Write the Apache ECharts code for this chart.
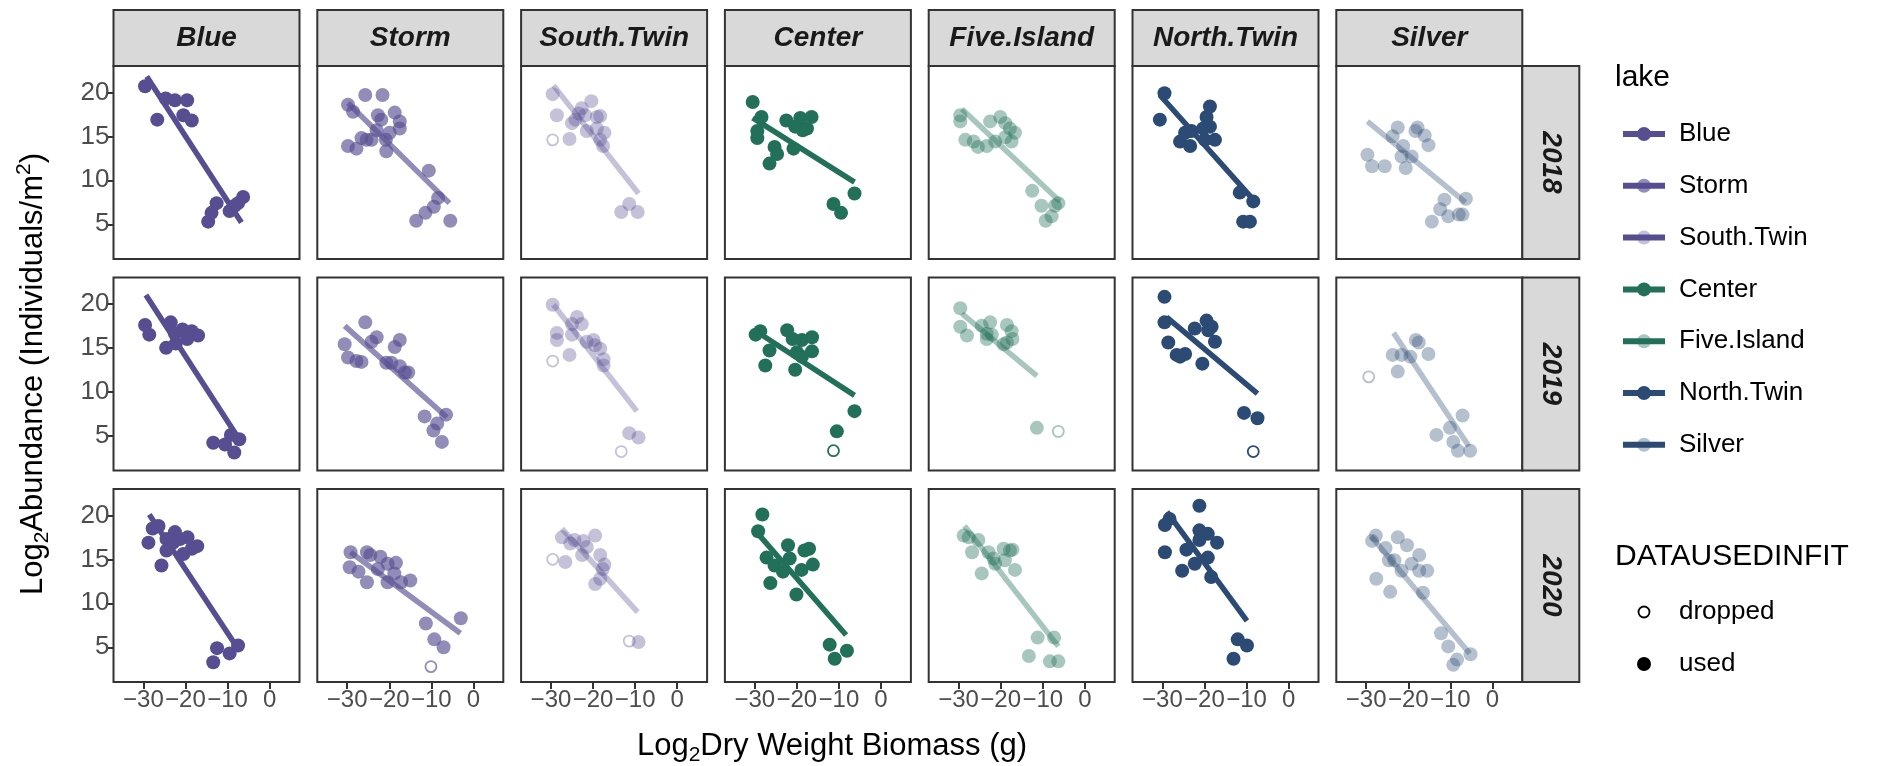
<!DOCTYPE html>
<html>
<head>
<meta charset="utf-8">
<script src="https://cdn.jsdelivr.net/npm/echarts@6/dist/echarts.min.js"></script>
<style>
  html, body { margin: 0; padding: 0; background: #fff; }
  #main { width: 1890px; height: 766px; }
</style>
</head>
<body>
<div id="main"></div>
<script>
// facets
const lakes = ['Blue', 'Storm', 'South.Twin', 'Center', 'Five.Island', 'North.Twin', 'Silver'];
const years = ['2018', '2019', '2020'];
const lakeColors = ['#574e92', '#574e92', '#574e92', '#23705a', '#23705a', '#2b4a74', '#2b4a74'];
const lakeAlpha = [1, 0.65, 0.35, 1, 0.4, 1, 0.35];
const xTicks = [-30, -20, -10, 0];
const yTicks = [5, 10, 15, 20];

// points used in fit, per lake: [2018, 2019, 2020], each [x, y]
const blueUsed = [
  [[-29.6, 20.7], [-24.7, 19.3], [-22.5, 19.1], [-19.6, 19.1], [-26.7, 16.9], [-20.5, 17.4], [-18.5, 16.8],
   [-14.6, 5.3], [-13.8, 6.3], [-12.6, 7.4], [-9.5, 6.5], [-8.3, 7.1], [-6.3, 8.1], [-7.5, 7.4]],
  [[-29.6, 17.6], [-28.6, 16.5], [-23.5, 17.9], [-20.7, 17.1], [-18.5, 16.9], [-17.0, 16.4], [-19.6, 16.0],
   [-24.6, 15.0], [-22.3, 15.5], [-22.5, 16.6], [-13.4, 4.2], [-10.6, 4.0], [-9.2, 5.1], [-7.2, 4.6], [-8.4, 3.1]],
  [[-28.8, 16.9], [-27.8, 18.5], [-26.4, 18.8], [-24.5, 17.3], [-25.7, 14.3], [-24.5, 16.0], [-22.5, 18.1],
   [-21.3, 17.3], [-19.5, 17.5], [-20.5, 15.6], [-18.5, 16.2], [-17.2, 16.5], [-22.9, 16.9],
   [-12.5, 4.9], [-13.4, 3.3], [-9.5, 4.3], [-7.5, 5.2]]
];
const stormUsed = [
  [[-25.7, 19.7], [-21.6, 19.7], [-29.8, 18.6], [-28.6, 17.8], [-22.7, 17.4], [-18.7, 17.7], [-21.9, 16.9],
   [-17.5, 16.7], [-17.5, 15.9], [-19.9, 15.4], [-23.0, 15.7], [-26.6, 14.8], [-25.4, 14.6], [-24.2, 14.6],
   [-29.8, 13.9], [-27.8, 13.6], [-20.8, 14.6], [-20.7, 13.3], [-10.6, 11.1], [-8.4, 8.0], [-9.4, 7.0],
   [-11.4, 6.3], [-13.6, 5.4], [-5.5, 5.4]],
  [[-25.7, 17.9], [-30.6, 15.4], [-29.8, 13.9], [-27.8, 13.5], [-26.6, 13.4], [-24.2, 15.7], [-23.0, 16.2],
   [-17.5, 15.9], [-18.7, 15.1], [-20.7, 13.3], [-19.5, 13.3], [-17.5, 12.9], [-16.3, 12.2], [-15.5, 12.2],
   [-11.6, 7.2], [-6.5, 7.4], [-8.6, 6.4], [-9.5, 5.6], [-7.5, 4.3]],
  [[-29.2, 15.8], [-29.4, 14.1], [-27.3, 13.6], [-25.3, 12.4], [-25.3, 15.8], [-24.5, 15.5], [-22.1, 15.3],
   [-22.7, 13.9], [-20.4, 14.5], [-18.4, 14.6], [-18.8, 13.4], [-20.4, 12.4], [-17.2, 12.4], [-15.0, 12.6],
   [-11.3, 7.7], [-9.3, 5.9], [-7.1, 5.0], [-3.0, 8.3]]
];
const southTwinUsed = [
  [[-29.6, 19.8], [-28.6, 17.4], [-25.6, 14.7], [-25.0, 16.5], [-23.4, 17.6], [-22.7, 18.2], [-20.4, 19.0],
   [-21.9, 17.4], [-19.1, 17.2], [-18.3, 17.3], [-21.5, 15.6], [-19.1, 15.9], [-17.3, 15.4], [-18.3, 14.6],
   [-17.6, 13.9], [-24.2, 16.9], [-13.3, 6.4], [-11.4, 7.3], [-9.4, 6.4]],
  [[-29.6, 19.9], [-28.6, 16.7], [-28.6, 15.9], [-25.6, 14.2], [-25.0, 17.7], [-23.8, 18.5], [-22.7, 17.7],
   [-25.0, 16.5], [-21.5, 15.7], [-19.9, 15.9], [-19.5, 15.3], [-18.3, 14.9], [-17.5, 13.7], [-17.5, 13.0],
   [-11.4, 5.3], [-9.2, 4.8]],
  [[-26.6, 14.7], [-27.4, 17.5], [-25.4, 16.8], [-24.4, 17.2], [-22.3, 17.1], [-21.5, 16.4], [-19.5, 17.7],
   [-22.6, 15.5], [-18.3, 15.5], [-17.3, 14.4], [-17.7, 13.9], [-19.5, 12.2], [-18.3, 12.8], [-9.2, 5.6]]
];
const centerUsed = [
  [[-30.5, 18.9], [-28.4, 17.2], [-29.4, 15.6], [-29.4, 14.8], [-25.3, 13.8], [-24.7, 13.0], [-26.5, 11.9],
   [-22.5, 16.8], [-20.4, 16.1], [-19.2, 17.1], [-16.5, 17.2], [-17.6, 15.9], [-18.6, 15.7], [-20.8, 13.6],
   [-6.3, 8.5], [-11.3, 7.3], [-9.5, 6.3]],
  [[-28.7, 16.9], [-29.8, 16.5], [-26.5, 14.7], [-27.5, 13.0], [-22.3, 17.0], [-21.0, 16.0], [-18.8, 15.9],
   [-16.4, 16.2], [-16.4, 14.6], [-18.8, 14.0], [-20.4, 12.5], [-20.0, 14.5], [-6.3, 7.8], [-10.5, 5.5]],
  [[-28.2, 20.1], [-29.2, 18.2], [-27.2, 15.2], [-26.3, 12.3], [-25.3, 14.3], [-23.3, 13.6], [-22.1, 16.6],
   [-21.7, 15.1], [-20.1, 11.0], [-18.9, 13.8], [-18.2, 16.0], [-17.1, 16.2], [-16.2, 14.4],
   [-12.2, 5.3], [-11.0, 3.7], [-8.1, 4.6]]
];
const fiveIslandUsed = [
  [[-29.6, 17.4], [-29.6, 16.7], [-28.4, 14.6], [-26.4, 14.4], [-25.4, 13.8], [-22.5, 16.7], [-20.1, 17.2],
   [-18.9, 16.5], [-17.8, 15.9], [-16.6, 15.4], [-21.3, 14.4], [-17.4, 14.4], [-18.9, 14.9], [-23.3, 13.9],
   [-12.5, 8.8], [-10.3, 7.1], [-7.9, 5.9], [-9.3, 5.4], [-6.3, 7.4], [-7.1, 7.1]],
  [[-29.6, 19.5], [-29.6, 17.4], [-28.0, 16.4], [-24.5, 17.5], [-22.5, 17.9], [-23.3, 16.6], [-22.1, 16.5],
   [-23.3, 16.0], [-18.5, 17.6], [-17.4, 16.9], [-17.2, 16.0], [-19.3, 15.4], [-18.5, 15.6], [-11.4, 5.9]],
  [[-28.8, 17.7], [-27.6, 17.5], [-25.3, 17.2], [-26.8, 15.8], [-24.5, 13.4], [-22.9, 15.8], [-21.7, 15.1],
   [-19.3, 16.2], [-17.8, 16.0], [-17.2, 16.1], [-19.0, 14.9], [-16.6, 13.8], [-21.3, 14.5],
   [-11.2, 6.1], [-7.3, 6.1], [-13.3, 4.0], [-8.3, 3.4], [-6.3, 3.4]]
];
const northTwinUsed = [
  [[-29.5, 19.9], [-30.6, 16.9], [-25.8, 14.4], [-23.4, 13.9], [-24.6, 15.4], [-23.1, 15.6], [-18.7, 18.4],
   [-19.5, 17.2], [-18.7, 16.1], [-20.3, 15.9], [-17.5, 14.6], [-19.9, 14.6], [-11.6, 8.6], [-8.4, 7.6],
   [-10.8, 5.3], [-9.2, 5.3]],
  [[-29.5, 20.8], [-29.5, 17.9], [-28.6, 15.6], [-26.6, 14.2], [-24.6, 14.3], [-25.8, 14.0], [-22.3, 17.2],
   [-19.5, 18.1], [-18.3, 17.4], [-19.1, 17.0], [-17.5, 15.7], [-20.5, 13.2], [-10.6, 7.6], [-7.4, 7.0]],
  [[-21.2, 21.1], [-29.4, 18.9], [-28.3, 19.6], [-29.4, 15.8], [-25.3, 13.7], [-24.3, 16.1], [-22.3, 14.5],
   [-21.2, 18.3], [-19.2, 17.9], [-21.2, 17.2], [-17.0, 16.9], [-19.2, 15.2], [-18.4, 13.0],
   [-12.1, 5.9], [-9.9, 5.2], [-13.1, 3.7]]
];
const silverUsed = [
  [[-29.7, 12.9], [-28.6, 11.6], [-25.6, 11.6], [-22.5, 16.0], [-17.8, 16.0], [-18.3, 15.6], [-16.1, 15.1],
   [-15.2, 14.0], [-21.2, 13.9], [-19.2, 12.7], [-20.6, 11.4], [-21.6, 12.7], [-23.7, 15.0],
   [-11.4, 7.8], [-12.4, 6.7], [-14.4, 5.3], [-10.5, 5.9], [-8.0, 6.1], [-7.1, 6.1], [-6.3, 7.9]],
  [[-22.5, 12.3], [-23.7, 14.2], [-21.6, 14.2], [-19.5, 14.0], [-18.2, 15.9], [-17.5, 15.6], [-15.2, 14.3],
   [-7.1, 7.3], [-10.1, 5.9], [-13.3, 5.1], [-9.3, 4.3], [-8.2, 3.3], [-5.3, 3.3]],
  [[-28.6, 17.1], [-27.7, 17.7], [-27.6, 12.8], [-25.4, 16.3], [-24.6, 14.9], [-24.3, 11.3], [-22.5, 17.5],
   [-20.3, 16.6], [-23.3, 14.9], [-21.6, 13.7], [-19.2, 14.5], [-17.4, 15.5], [-17.4, 13.7], [-15.5, 13.7],
   [-16.5, 11.2], [-12.2, 6.6], [-10.5, 5.1], [-8.4, 3.6], [-9.3, 3.0], [-5.2, 4.2]]
];
const usedByLake = [blueUsed, stormUsed, southTwinUsed, centerUsed, fiveIslandUsed, northTwinUsed, silverUsed];

// points dropped from the fit: [lake, year, x, y]
const droppedPts = [
  ['South.Twin', '2018', -29.6, 14.6],
  ['South.Twin', '2019', -29.6, 13.5],
  ['South.Twin', '2019', -13.3, 3.2],
  ['Center', '2019', -11.3, 3.3],
  ['Five.Island', '2019', -6.3, 5.5],
  ['North.Twin', '2019', -8.4, 3.2],
  ['Silver', '2019', -29.4, 11.7],
  ['Storm', '2020', -10.1, 2.8],
  ['South.Twin', '2020', -29.6, 15.0],
  ['South.Twin', '2020', -11.4, 5.7]
];

// fitted lines: [lake, year, x1, y1, x2, y2]
const fitLines = [
  ['Blue', '2018', -29.2, 21.8, -6.7, 5.2], ['Blue', '2019', -29.4, 21.0, -7.9, 5.1], ['Blue', '2020', -28.6, 20.1, -8.3, 5.4],
  ['Storm', '2018', -29.8, 18.8, -5.7, 7.4], ['Storm', '2019', -30.6, 17.5, -6.3, 7.1], ['Storm', '2020', -29.2, 15.8, -3.1, 6.6],
  ['South.Twin', '2018', -29.4, 20.8, -9.2, 8.5], ['South.Twin', '2019', -29.4, 19.9, -9.6, 7.8], ['South.Twin', '2020', -27.4, 18.5, -9.4, 9.0],
  ['Center', '2018', -30.5, 17.1, -6.3, 9.8], ['Center', '2019', -29.4, 16.8, -6.3, 9.6], ['Center', '2020', -29.2, 17.9, -8.3, 6.4],
  ['Five.Island', '2018', -29.2, 18.1, -5.9, 7.6], ['Five.Island', '2019', -29.2, 18.9, -11.4, 11.8], ['Five.Island', '2020', -28.6, 18.8, -6.3, 5.1],
  ['North.Twin', '2018', -30.6, 19.7, -8.4, 7.8], ['North.Twin', '2019', -29.0, 18.5, -7.4, 9.8], ['North.Twin', '2020', -28.9, 20.4, -9.9, 8.0],
  ['Silver', '2018', -29.7, 16.7, -6.4, 7.5], ['Silver', '2019', -23.5, 16.7, -5.6, 3.8], ['Silver', '2020', -28.8, 17.6, -5.4, 4.3]
];

// layout
const FONT = '"Liberation Sans", Arial, sans-serif';
const PW = 186, PH = 193;
function colLeft(i) { return 113.5 + 203.8 * i; }
function rowTop(j) { return 66 + 211.5 * j; }
function fmt(v) { return v < 0 ? '\u2212' + Math.abs(v) : String(v); }

const grids = [], xAxes = [], yAxes = [], series = [];
years.forEach(function (yr, j) {
  lakes.forEach(function (lake, i) {
    const k = grids.length;
    const bottom = j === years.length - 1;
    const first = i === 0;
    grids.push({
      left: colLeft(i), top: rowTop(j), width: PW, height: PH,
      show: true, borderColor: '#333333', borderWidth: 2, backgroundColor: '#fff'
    });
    xAxes.push({
      gridIndex: k, type: 'value', min: -37.1, max: 7.1, position: 'bottom',
      splitLine: { show: false }, axisLine: { show: false, onZero: false },
      axisTick: { show: bottom, customValues: xTicks, length: 7, lineStyle: { color: '#333', width: 2 } },
      axisLabel: { show: bottom, customValues: xTicks, formatter: fmt, hideOverlap: false, interval: 0,
        showMinLabel: true, showMaxLabel: true, color: '#4d4d4d', fontSize: 24, fontFamily: FONT, margin: 6 }
    });
    yAxes.push({
      gridIndex: k, type: 'value', min: 1.05, max: 23.0, position: 'left',
      splitLine: { show: false }, axisLine: { show: false, onZero: false },
      axisTick: { show: first, customValues: yTicks, length: 7, lineStyle: { color: '#333', width: 2 } },
      axisLabel: { show: first, customValues: yTicks, formatter: fmt, hideOverlap: false,
        showMinLabel: true, showMaxLabel: true, color: '#4d4d4d', fontSize: 26, fontFamily: FONT, margin: 4 }
    });
    const col = lakeColors[i], a = lakeAlpha[i];
    series.push({
      type: 'scatter', xAxisIndex: k, yAxisIndex: k, symbolSize: 14,
      data: usedByLake[i][j],
      itemStyle: { color: col, opacity: a }
    });
    series.push({
      type: 'scatter', xAxisIndex: k, yAxisIndex: k, symbolSize: 11,
      data: droppedPts.filter(function (d) { return d[0] === lake && d[1] === yr; })
        .map(function (d) { return [d[2], d[3]]; }),
      itemStyle: { color: 'rgba(255,255,255,0)', borderColor: col, borderWidth: 1.8, opacity: a }
    });
    const f = fitLines.find(function (d) { return d[0] === lake && d[1] === yr; });
    series.push({
      type: 'line', xAxisIndex: k, yAxisIndex: k, symbol: 'none',
      data: [[f[2], f[3]], [f[4], f[5]]],
      lineStyle: { color: col, width: 5.5, opacity: a, cap: 'butt' }
    });
  });
});

// strips, axis titles, legends
const graphics = [];
lakes.forEach(function (lake, i) {
  graphics.push({ type: 'rect', shape: { x: colLeft(i), y: 10, width: PW, height: 56 },
    style: { fill: '#d9d9d9', stroke: '#333', lineWidth: 2 } });
  graphics.push({ type: 'text', x: colLeft(i) + PW / 2, y: 38,
    style: { text: lake, fontSize: 28, fontWeight: 'bold', fontStyle: 'italic', fontFamily: FONT, fill: '#1a1a1a', align: 'center', verticalAlign: 'middle' } });
});
const stripX = colLeft(6) + PW;
years.forEach(function (yr, j) {
  graphics.push({ type: 'rect', shape: { x: stripX, y: rowTop(j), width: 57, height: PH },
    style: { fill: '#d9d9d9', stroke: '#333', lineWidth: 2 } });
  graphics.push({ type: 'text', x: stripX + 28.5, y: rowTop(j) + PH / 2, rotation: -Math.PI / 2,
    style: { text: yr, fontSize: 28, fontWeight: 'bold', fontStyle: 'italic', fontFamily: FONT, fill: '#1a1a1a', align: 'center', verticalAlign: 'middle' } });
});
const richTitle = {
  a: { fontSize: 31, lineHeight: 39, fontFamily: FONT, fill: '#000' },
  b: { fontSize: 21, lineHeight: 19, verticalAlign: 'bottom', fontFamily: FONT, fill: '#000' },
  c: { fontSize: 21, lineHeight: 19, verticalAlign: 'top', fontFamily: FONT, fill: '#000' }
};
graphics.push({ type: 'text', x: 33, y: 374, rotation: Math.PI / 2,
  style: { text: '{a|Log}{b|2}{a|Abundance (Individuals/m}{c|2}{a|)}', rich: richTitle, align: 'center', verticalAlign: 'middle' } });
graphics.push({ type: 'text', x: 832, y: 746,
  style: { text: '{a|Log}{b|2}{a|Dry Weight Biomass (g)}', rich: richTitle, align: 'center', verticalAlign: 'middle' } });

const LX = 1615;
graphics.push({ type: 'text', x: LX, y: 78,
  style: { text: 'lake', fontSize: 30, fontFamily: FONT, fill: '#000', align: 'left', verticalAlign: 'middle' } });
lakes.forEach(function (lake, i) {
  const y = 134 + 51.8 * i;
  graphics.push({ type: 'rect', shape: { x: LX + 8, y: y - 3, width: 42, height: 6 }, style: { fill: lakeColors[i] } });
  graphics.push({ type: 'circle', shape: { cx: LX + 29, cy: y, r: 7 }, style: { fill: lakeColors[i], opacity: lakeAlpha[i] } });
  graphics.push({ type: 'text', x: LX + 64, y: y,
    style: { text: lake, fontSize: 26, fontFamily: FONT, fill: '#000', align: 'left', verticalAlign: 'middle' } });
});
graphics.push({ type: 'text', x: LX, y: 557,
  style: { text: 'DATAUSEDINFIT', fontSize: 30, fontFamily: FONT, fill: '#000', align: 'left', verticalAlign: 'middle' } });
graphics.push({ type: 'circle', shape: { cx: LX + 29, cy: 612, r: 5.5 }, style: { fill: 'none', stroke: '#000', lineWidth: 1.8 } });
graphics.push({ type: 'text', x: LX + 64, y: 612,
  style: { text: 'dropped', fontSize: 26, fontFamily: FONT, fill: '#000', align: 'left', verticalAlign: 'middle' } });
graphics.push({ type: 'circle', shape: { cx: LX + 29, cy: 664, r: 7 }, style: { fill: '#000' } });
graphics.push({ type: 'text', x: LX + 64, y: 664,
  style: { text: 'used', fontSize: 26, fontFamily: FONT, fill: '#000', align: 'left', verticalAlign: 'middle' } });

const chart = echarts.init(document.getElementById('main'));
chart.setOption({
  animation: false,
  backgroundColor: '#ffffff',
  grid: grids,
  xAxis: xAxes,
  yAxis: yAxes,
  series: series,
  graphic: graphics
});
</script>
</body>
</html>
